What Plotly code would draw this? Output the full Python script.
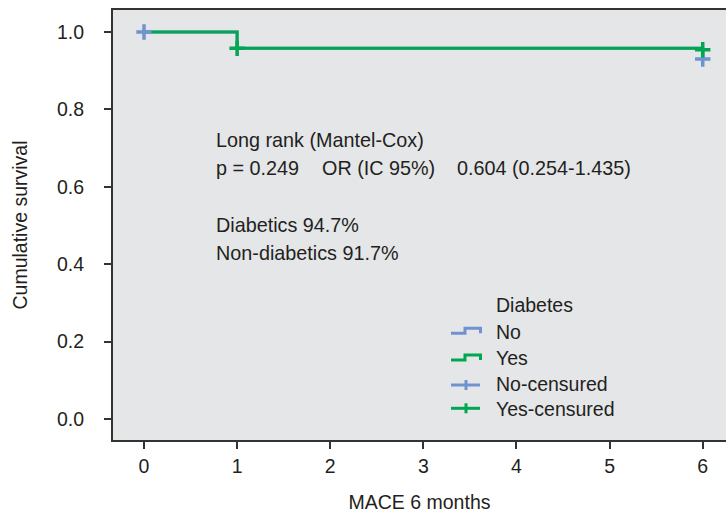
import plotly.graph_objects as go

# --- data ---
no_time = [0, 1, 6]
no_surv = [1.0, 0.958, 0.930]
yes_time = [0, 1, 6]
yes_surv = [1.0, 0.958, 0.958]
no_cens_time = [0, 6]
no_cens_surv = [1.0, 0.930]
yes_cens_time = [1, 6]
yes_cens_surv = [0.958, 0.954]
x_ticks = [0, 1, 2, 3, 4, 5, 6]
y_ticks = [0.0, 0.2, 0.4, 0.6, 0.8, 1.0]
legend_labels = ["No", "Yes", "No-censured", "Yes-censured"]

BLUE = "#7092d0"
GREEN = "#00a651"
TXT = "#231f20"
FONT = "Liberation Sans, Arial, sans-serif"
FS = 19.5

W, H = 726, 514
ML, MR, MT, MB = 113, 0, 10, 74
PW, PH = W - ML - MR, H - MT - MB


def px_x(p):
    return (p - ML) / PW


def px_y(p):
    return (H - MB - p) / PH


def gapped(xs, ys):
    gx, gy = [], []
    for i, (a, b) in enumerate(zip(xs, ys)):
        if i:
            gx.append(None); gy.append(None)
        gx.append(a); gy.append(b)
    return gx, gy


fig = go.Figure()
fig.add_trace(go.Scatter(x=no_time, y=no_surv, mode="lines", name=legend_labels[0],
                         line=dict(color=BLUE, width=3, shape="hv")))
fig.add_trace(go.Scatter(x=yes_time, y=yes_surv, mode="lines", name=legend_labels[1],
                         line=dict(color=GREEN, width=3, shape="hv")))
gx, gy = gapped(no_cens_time, no_cens_surv)
fig.add_trace(go.Scatter(x=gx, y=gy, mode="markers", name=legend_labels[2],
                         marker=dict(symbol="cross-thin", size=11,
                                     line=dict(color=BLUE, width=3.5))))
gx, gy = gapped(yes_cens_time, yes_cens_surv)
fig.add_trace(go.Scatter(x=gx, y=gy, mode="markers", name=legend_labels[3],
                         marker=dict(symbol="cross-thin", size=11,
                                     line=dict(color=GREEN, width=3.5))))

# annotation text block
ann = [
    (0.752, 0.721, "Long rank (Mantel-Cox)"),
    (0.752, 0.649, "p = 0.249"),
    (1.890, 0.649, "OR (IC 95%)"),
    (3.340, 0.649, "0.604 (0.254-1.435)"),
    (0.752, 0.501, "Diabetics 94.7%"),
    (0.752, 0.429, "Non-diabetics 91.7%"),
]
for x, y, t in ann:
    fig.add_annotation(x=x, y=y, xref="x", yref="y", text=t, showarrow=False,
                       xanchor="left", yanchor="middle",
                       font=dict(family=FONT, size=19.8, color=TXT))

# manual legend (title + items with step / censor glyphs)
TX = 494
fig.add_annotation(x=px_x(TX), y=px_y(305), xref="paper", yref="paper",
                   text="Diabetes", showarrow=False, xanchor="left", yanchor="middle",
                   font=dict(family=FONT, size=FS, color=TXT))
rows = [332, 357.5, 384, 409]
glyph_y = [333.3, 360, 385, 408.3]
colors = [BLUE, GREEN, BLUE, GREEN]
for i, (lab, yc, ly, col) in enumerate(zip(legend_labels, rows, glyph_y, colors)):
    fig.add_annotation(x=px_x(TX), y=px_y(yc), xref="paper", yref="paper",
                       text=lab, showarrow=False, xanchor="left", yanchor="middle",
                       font=dict(family=FONT, size=FS, color=TXT))
    if i < 2:
        path = (f"M{px_x(451)},{px_y(ly)} L{px_x(465)},{px_y(ly)} "
                f"L{px_x(465)},{px_y(ly - 5)} L{px_x(480.5)},{px_y(ly - 5)} "
                f"L{px_x(480.5)},{px_y(ly)}")
        fig.add_shape(type="path", path=path, xref="paper", yref="paper",
                      line=dict(color=col, width=3))
    else:
        fig.add_shape(type="line", x0=px_x(451), x1=px_x(480), y0=px_y(ly), y1=px_y(ly),
                      xref="paper", yref="paper", line=dict(color=col, width=3))
        fig.add_shape(type="line", x0=px_x(466), x1=px_x(466),
                      y0=px_y(ly - 5), y1=px_y(ly + 5),
                      xref="paper", yref="paper", line=dict(color=col, width=3))

fig.update_layout(
    width=W, height=H,
    margin=dict(l=ML, r=MR, t=MT, b=MB, pad=0),
    paper_bgcolor="white",
    plot_bgcolor="#e5e6e8",
    font=dict(family=FONT, size=FS, color=TXT),
    showlegend=False,
)
fig.update_xaxes(range=[-0.333, 6.25], tickvals=x_ticks, ticktext=[str(v) for v in x_ticks],
                 showgrid=False, zeroline=False,
                 showline=True, linecolor="#333333", linewidth=2, mirror=True,
                 ticks="outside", ticklen=7, tickwidth=2, tickcolor="#333333",
                 ticklabelstandoff=1,
                 title=dict(text="MACE 6 months", standoff=19,
                            font=dict(family=FONT, size=FS, color=TXT)))
fig.update_yaxes(range=[-0.0543, 1.0568], tickvals=y_ticks, tickformat=".1f",
                 showgrid=False, zeroline=False,
                 showline=True, linecolor="#333333", linewidth=2,
                 ticks="outside", ticklen=7, tickwidth=2, tickcolor="#333333",
                 ticklabelstandoff=16,
                 title=dict(text="Cumulative survival", standoff=24,
                            font=dict(family=FONT, size=FS, color=TXT)))

fig.write_html("out.html", config={"displayModeBar": False},
               post_script="document.body.style.margin='0';")
